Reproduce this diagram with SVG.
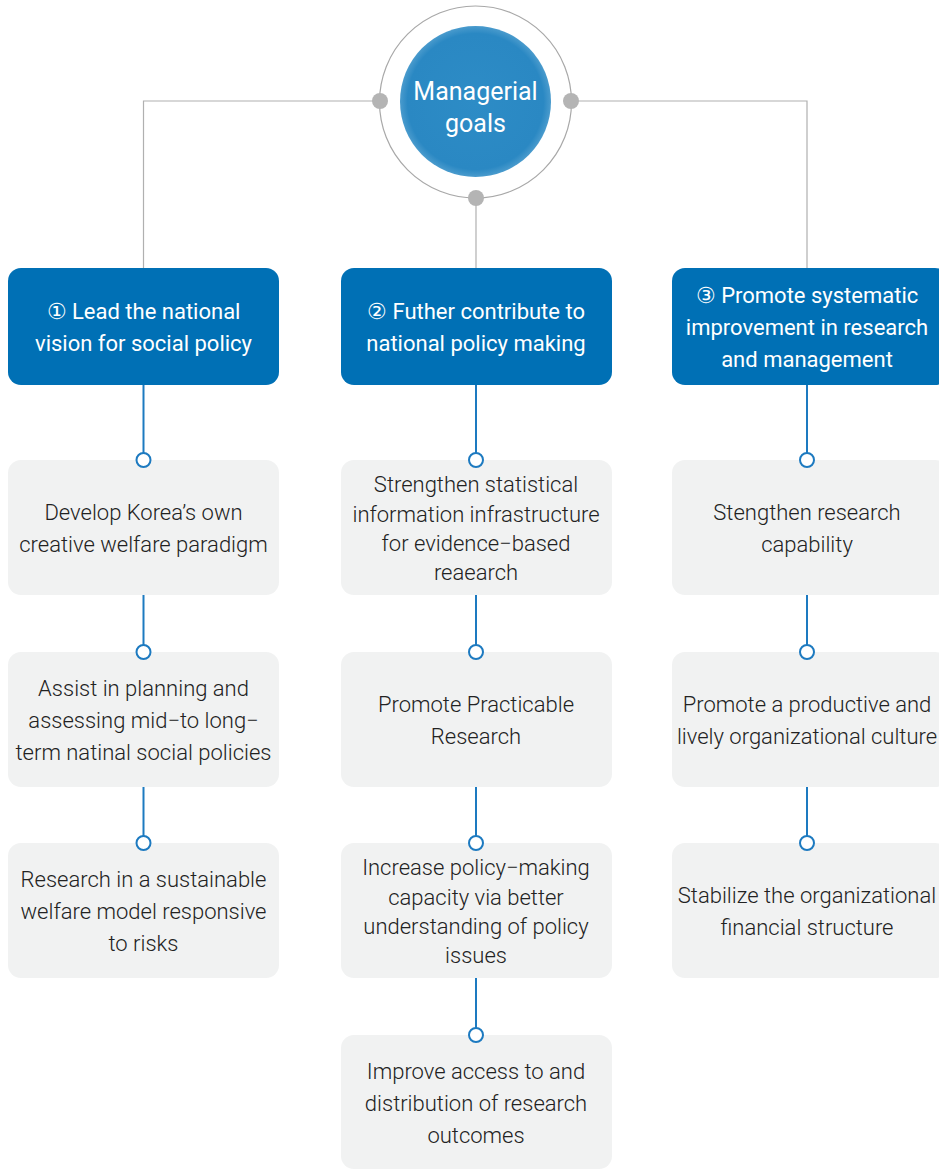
<svg xmlns="http://www.w3.org/2000/svg" width="939" height="1169" viewBox="0 0 939 1169">
  <defs>
    <radialGradient id="hubFill" cx="50%" cy="50%" r="50%">
      <stop offset="0" stop-color="#2d8cc6"/>
      <stop offset="0.9" stop-color="#2a88c3"/>
      <stop offset="1" stop-color="#4a9bcd"/>
    </radialGradient>
    <style>
      .guide { fill: none; stroke: #b0b0b0; stroke-width: 1.2; }
      .dot { fill: #b4b4b4; }
      .link { fill: none; stroke: #1d7ac0; stroke-width: 2; }
      .pin { fill: #ffffff; stroke: #1d7ac0; stroke-width: 2; }
      .head { fill: #0070b5; }
      .item { fill: #f1f2f2; }
      .ht { font-family: Roboto, "Liberation Sans", sans-serif; font-size: 22px; font-weight: 400; fill: #ffffff; text-anchor: middle; }
      .it { font-family: Roboto, "Liberation Sans", sans-serif; font-size: 22px; font-weight: 300; fill: #222222; text-anchor: middle; }
      .hub { font-family: Roboto, "Liberation Sans", sans-serif; font-size: 25px; font-weight: 400; fill: #ffffff; text-anchor: middle; }
    </style>
  </defs>

  <!-- connectors -->
  <g id="connectors">
    <polyline class="guide" points="380,101 143.5,101 143.5,268"/>
    <polyline class="guide" points="571,101 807,101 807,268"/>
    <line class="guide" x1="476" y1="198" x2="476" y2="268"/>

    <line class="link" x1="143.5" y1="385" x2="143.5" y2="453"/>
    <line class="link" x1="143.5" y1="595" x2="143.5" y2="645"/>
    <line class="link" x1="143.5" y1="787" x2="143.5" y2="836"/>

    <line class="link" x1="476" y1="385" x2="476" y2="453"/>
    <line class="link" x1="476" y1="595" x2="476" y2="645"/>
    <line class="link" x1="476" y1="787" x2="476" y2="836"/>
    <line class="link" x1="476" y1="978" x2="476" y2="1028"/>

    <line class="link" x1="807" y1="385" x2="807" y2="453"/>
    <line class="link" x1="807" y1="595" x2="807" y2="645"/>
    <line class="link" x1="807" y1="787" x2="807" y2="836"/>
  </g>

  <!-- central hub -->
  <g id="hub">
    <circle cx="475.5" cy="102" r="96" fill="#ffffff" stroke="#a8a8a8" stroke-width="1.2"/>
    <circle cx="475.5" cy="101.5" r="75.5" fill="url(#hubFill)"/>
    <text class="hub" x="475.5" y="100">Managerial</text>
    <text class="hub" x="475.5" y="132">goals</text>
    <circle class="dot" cx="380" cy="101" r="8"/>
    <circle class="dot" cx="571" cy="101" r="8"/>
    <circle class="dot" cx="476" cy="198" r="8"/>
  </g>

  <!-- column 1 -->
  <g id="goal1">
    <rect class="head" x="8" y="268" width="271" height="117" rx="13"/>
    <text class="ht" x="143.5" y="319">① Lead the national</text>
    <text class="ht" x="143.5" y="351">vision for social policy</text>
  </g>
  <g id="goal1-a">
    <rect class="item" x="8" y="460" width="271" height="135" rx="13"/>
    <circle class="pin" cx="143.5" cy="460" r="7"/>
    <text class="it" x="143.5" y="520">Develop Korea’s own</text>
    <text class="it" x="143.5" y="552">creative welfare paradigm</text>
  </g>
  <g id="goal1-b">
    <rect class="item" x="8" y="652" width="271" height="135" rx="13"/>
    <circle class="pin" cx="143.5" cy="652" r="7"/>
    <text class="it" x="143.5" y="696">Assist in planning and</text>
    <text class="it" x="143.5" y="728">assessing mid−to long−</text>
    <text class="it" x="143.5" y="760">term natinal social policies</text>
  </g>
  <g id="goal1-c">
    <rect class="item" x="8" y="843" width="271" height="135" rx="13"/>
    <circle class="pin" cx="143.5" cy="843" r="7"/>
    <text class="it" x="143.5" y="887">Research in a sustainable</text>
    <text class="it" x="143.5" y="919">welfare model responsive</text>
    <text class="it" x="143.5" y="951">to risks</text>
  </g>

  <!-- column 2 -->
  <g id="goal2">
    <rect class="head" x="341" y="268" width="271" height="117" rx="13"/>
    <text class="ht" x="476" y="319">② Futher contribute to</text>
    <text class="ht" x="476" y="351">national policy making</text>
  </g>
  <g id="goal2-a">
    <rect class="item" x="341" y="460" width="271" height="135" rx="13"/>
    <circle class="pin" cx="476" cy="460" r="7"/>
    <text class="it" x="476" y="492">Strengthen statistical</text>
    <text class="it" x="476" y="522">information infrastructure</text>
    <text class="it" x="476" y="551">for evidence−based</text>
    <text class="it" x="476" y="580">reaearch</text>
  </g>
  <g id="goal2-b">
    <rect class="item" x="341" y="652" width="271" height="135" rx="13"/>
    <circle class="pin" cx="476" cy="652" r="7"/>
    <text class="it" x="476" y="712">Promote Practicable</text>
    <text class="it" x="476" y="744">Research</text>
  </g>
  <g id="goal2-c">
    <rect class="item" x="341" y="843" width="271" height="135" rx="13"/>
    <circle class="pin" cx="476" cy="843" r="7"/>
    <text class="it" x="476" y="875">Increase policy−making</text>
    <text class="it" x="476" y="905">capacity via better</text>
    <text class="it" x="476" y="934">understanding of policy</text>
    <text class="it" x="476" y="963">issues</text>
  </g>
  <g id="goal2-d">
    <rect class="item" x="341" y="1035" width="271" height="134" rx="13"/>
    <circle class="pin" cx="476" cy="1035" r="7"/>
    <text class="it" x="476" y="1079">Improve access to and</text>
    <text class="it" x="476" y="1111">distribution of research</text>
    <text class="it" x="476" y="1143">outcomes</text>
  </g>

  <!-- column 3 -->
  <g id="goal3">
    <rect class="head" x="672" y="268" width="276" height="117" rx="13"/>
    <text class="ht" x="807" y="303">③ Promote systematic</text>
    <text class="ht" x="807" y="335">improvement in research</text>
    <text class="ht" x="807" y="367">and management</text>
  </g>
  <g id="goal3-a">
    <rect class="item" x="672" y="460" width="276" height="135" rx="13"/>
    <circle class="pin" cx="807" cy="460" r="7"/>
    <text class="it" x="807" y="520">Stengthen research</text>
    <text class="it" x="807" y="552">capability</text>
  </g>
  <g id="goal3-b">
    <rect class="item" x="672" y="652" width="276" height="135" rx="13"/>
    <circle class="pin" cx="807" cy="652" r="7"/>
    <text class="it" x="807" y="712">Promote a productive and</text>
    <text class="it" x="807" y="744">lively organizational culture</text>
  </g>
  <g id="goal3-c">
    <rect class="item" x="672" y="843" width="276" height="135" rx="13"/>
    <circle class="pin" cx="807" cy="843" r="7"/>
    <text class="it" x="807" y="903">Stabilize the organizational</text>
    <text class="it" x="807" y="935">financial structure</text>
  </g>
</svg>
